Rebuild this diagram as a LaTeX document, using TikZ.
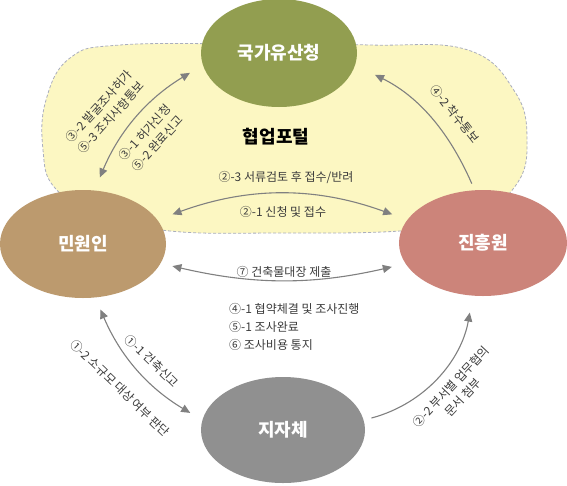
\documentclass[tikz,border=0pt]{standalone}
\usepackage{fontspec}
\setmainfont{Noto Sans CJK KR}
\usetikzlibrary{shapes.geometric,arrows.meta}
\definecolor{cKG}{RGB}{146,158,80}
\definecolor{cMW}{RGB}{188,154,110}
\definecolor{cJH}{RGB}{204,132,122}
\definecolor{cJJ}{RGB}{144,144,144}
\definecolor{cLine}{RGB}{128,128,128}
\definecolor{cTxt}{RGB}{60,60,60}
\definecolor{cBlob}{RGB}{252,247,194}
\definecolor{cDash}{RGB}{170,174,190}
\begin{document}
\begin{tikzpicture}[x=1pt,y=1pt,
  org/.style={ellipse, inner sep=0pt, text=white, font=\fontsize{18}{21}\selectfont\bfseries},
  lbl/.style={text=cTxt, font=\fontsize{12}{16.5}\selectfont, inner sep=1pt},
  conn/.style={draw=cLine, line width=1.1pt, -{Triangle[length=9pt,width=8pt]}},
  both/.style={draw=cLine, line width=1.1pt, {Triangle[length=9pt,width=8pt]}-{Triangle[length=9pt,width=8pt]}},
  blob/.style={fill=cBlob, draw=cDash, line width=0.8pt, dash pattern=on 3pt off 2pt},
]
\useasboundingbox (0,0) rectangle (567,-485);
\fill[white] (0,0) rectangle (567,-485);
% collaboration portal area
\draw[blob] plot[smooth cycle, tension=0.7] coordinates {
  (120,-45) (250,-44) (370,-45) (468,-50) (515,-92) (527,-140) (516,-185)
  (470,-220) (400,-231) (280,-233) (170,-231) (100,-215) (55,-188)
  (43,-150) (46,-100) (70,-58)};
\node[font=\fontsize{18}{21}\selectfont\bfseries, text=black] (portal) at (276,-137) {협업포털};
% organisations
\node[org, fill=cKG, minimum width=156pt, minimum height=108pt] (kg) at (279,-53) {국가유산청};
\node[org, fill=cMW, minimum width=166pt, minimum height=108pt] (mw) at (83,-244) {민원인};
\node[org, fill=cJH, minimum width=168pt, minimum height=106pt] (jh) at (483,-243) {진흥원};
\node[org, fill=cJJ, minimum width=164pt, minimum height=106pt] (jj) at (283,-430) {지자체};
% connectors
\draw[both, shorten <=14pt, shorten >=15pt] (mw.78) to[bend left=18] (kg.189);
\draw[conn, shorten <=7pt, shorten >=22pt] (jh.99) to[bend right=20] (kg.-9);
\draw[both, shorten <=16pt, shorten >=16pt] (mw.18) to[bend left=20] (jh.163);
\draw[both, shorten <=12pt, shorten >=14pt] (mw.-14) to[bend right=13] (jh.195);
\draw[both, shorten <=13pt, shorten >=14pt] (mw.-77) to[bend right=18] (jj.173);
\draw[conn, shorten <=8pt, shorten >=17pt] (jj.7) to[out=15, in=-100] (jh.259);
% labels
\node[lbl, rotate=48, align=left] (l1) at (105,-112) {③-2 발굴조사허가\\⑤-3 조치사항통보};
\node[lbl, rotate=48, align=left] (l2) at (151,-138) {③-1 허가신청\\⑤-2 완료신고};
\node[lbl, rotate=-52] (l3) at (455,-114) {④-2 착수통보};
\node[lbl] (l4) at (286,-177) {②-3 서류검토 후 접수/반려};
\node[lbl] (l5) at (283,-212) {②-1 신청 및 접수};
\node[lbl] (l6) at (284,-272) {⑦ 건축물대장 제출};
\node[lbl, anchor=west] (l7) at (228,-309) {④-1 협약체결 및 조사진행};
\node[lbl, anchor=west] (l8) at (228,-327) {⑤-1 조사완료};
\node[lbl, anchor=west] (l9) at (228,-345) {⑥ 조사비용 통지};
\node[lbl, rotate=-44] (l10) at (152,-361) {①-1 건축신고};
\node[lbl, rotate=-44] (l11) at (120,-388) {①-2 소규모 대상 여부 판단};
\node[lbl, rotate=47, align=center] (l12) at (457,-392) {②-2 부서별 업무협의\\문서 첨부};
\end{tikzpicture}
\end{document}
